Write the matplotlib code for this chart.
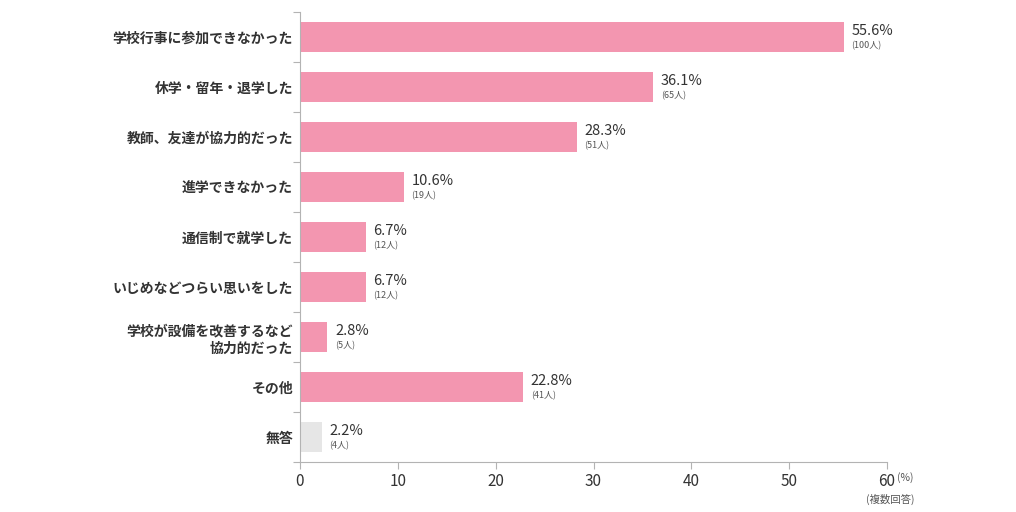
import numpy as np
import matplotlib
matplotlib.use("Agg")
import matplotlib.pyplot as plt

plt.rcParams['font.family'] = ['Noto Sans CJK JP', 'DejaVu Sans']

# データ
labels = ['学校行事に参加できなかった', '休学・留年・退学した', '教師、友達が協力的だった',
          '進学できなかった', '通信制で就学した', 'いじめなどつらい思いをした',
          '学校が設備を改善するなど\n協力的だった', 'その他', '無答']
percent = [55.6, 36.1, 28.3, 10.6, 6.7, 6.7, 2.8, 22.8, 2.2]
people = [100, 65, 51, 19, 12, 12, 5, 41, 4]
xticks = [0, 10, 20, 30, 40, 50, 60]

pink = '#f396b0'
gray = '#e6e6e6'
txt = '#333333'
axcol = '#b3b3b3'

fig = plt.figure(figsize=(10.16, 5.12), dpi=100)
ax = fig.add_axes([300/1016, 50/512, 587/1016, 450/512])

y = np.arange(len(labels))
colors = [pink]*(len(labels)-1) + [gray]
ax.barh(y, percent, height=0.6, color=colors)

for yi, p, n in zip(y, percent, people):
    ax.annotate(f'{p}%', (p, yi), xytext=(5.5, 4.5), textcoords='offset points',
                ha='left', va='center', fontsize=10.5, color=txt)
    ax.annotate(f'({n}人)', (p, yi), xytext=(5.5, -6.5), textcoords='offset points',
                ha='left', va='center', fontsize=6.5, color='#555555')

ax.set_ylim(len(labels)-0.5, -0.5)
ax.set_xlim(0, 60)
ax.set_xticks(xticks)
ax.set_xticklabels([str(t) for t in xticks], fontsize=11, color=txt)

# y軸: 目盛は区切り位置、ラベルは中央
ax.set_yticks(np.arange(len(labels)+1) - 0.5)
ax.set_yticklabels([])
ax.set_yticks(y, minor=True)
ax.set_yticklabels(labels, minor=True, fontsize=10, fontweight='bold', color=txt,
                   linespacing=1.3)
ax.tick_params(axis='y', which='minor', length=0, pad=5)
ax.tick_params(axis='y', which='major', length=5, color=axcol)
ax.tick_params(axis='x', length=5, color=axcol, pad=3)

for s in ['top', 'right']:
    ax.spines[s].set_visible(False)
for s in ['left', 'bottom']:
    ax.spines[s].set_color(axcol)
    ax.spines[s].set_linewidth(0.8)

fig.text(897/1016, 1 - 478/512, '(%)', fontsize=7.5, color='#555555', ha='left', va='center')
fig.text(890/1016, 1 - 499/512, '(複数回答)', fontsize=7.5, color='#555555', ha='center', va='center')

fig.savefig('out.png', dpi=100)
